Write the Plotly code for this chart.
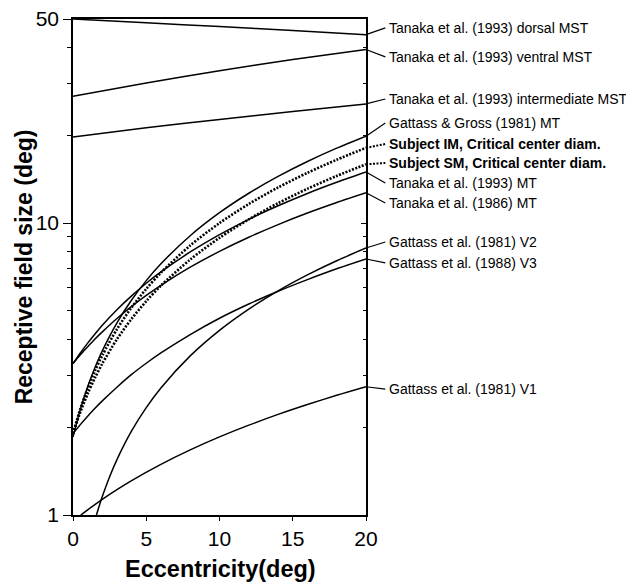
import math
import plotly.graph_objects as go

# ---------------- data ----------------
ecc_mst = [0, 5, 10, 15, 20]
dorsal_mst = [50.0, 48.55, 47.1, 45.65, 44.2]
ventral_mst = [27.2, 30.2, 33.25, 36.3, 39.3]
intermediate_mst = [19.7, 21.2, 22.65, 24.1, 25.6]

ecc = [0, 0.5, 1, 1.5, 2, 3, 4, 5, 6, 8, 10, 12, 14, 16, 18, 20]
gattass_gross_mt = [1.85, 2.3, 2.75, 3.2, 3.65, 4.55, 5.45, 6.35, 7.25, 9.05, 10.85, 12.65, 14.45, 16.25, 18.05, 19.85]
subject_im = [1.9, 2.31, 2.71, 3.12, 3.52, 4.33, 5.14, 5.95, 6.76, 8.38, 10.0, 11.62, 13.24, 14.86, 16.48, 18.1]
subject_sm = [1.9, 2.25, 2.6, 2.95, 3.3, 4.0, 4.7, 5.4, 6.1, 7.5, 8.9, 10.3, 11.7, 13.1, 14.5, 15.9]
tanaka93_mt = [3.3, 3.59, 3.88, 4.17, 4.47, 5.05, 5.63, 6.22, 6.8, 7.96, 9.13, 10.3, 11.46, 12.63, 13.79, 14.96]
tanaka86_mt = [3.3, 3.54, 3.77, 4.01, 4.24, 4.71, 5.18, 5.65, 6.12, 7.06, 8.0, 8.94, 9.88, 10.82, 11.76, 12.7]
gattass88_v3 = [1.9, 2.04, 2.18, 2.32, 2.46, 2.74, 3.03, 3.31, 3.59, 4.15, 4.72, 5.28, 5.84, 6.4, 6.97, 7.53]

ecc_v2 = [1.6, 1.8, 2, 2.5, 3, 4, 5, 6, 8, 10, 12, 14, 16, 18, 20]
gattass81_v2 = [1.0, 1.078, 1.156, 1.352, 1.548, 1.94, 2.332, 2.724, 3.508, 4.292, 5.076, 5.86, 6.644, 7.428, 8.212]

ecc_v1 = [0.53, 1, 2, 3, 4, 6, 8, 10, 12, 14, 16, 18, 20]
gattass81_v1 = [1.0, 1.042, 1.132, 1.222, 1.312, 1.491, 1.671, 1.851, 2.031, 2.211, 2.39, 2.57, 2.75]

labels = [
    "Tanaka et al. (1993) dorsal MST",
    "Tanaka et al. (1993) ventral MST",
    "Tanaka et al. (1993) intermediate MST",
    "Gattass & Gross (1981) MT",
    "Subject IM, Critical center diam.",
    "Subject SM, Critical center diam.",
    "Tanaka et al. (1993) MT",
    "Tanaka et al. (1986) MT",
    "Gattass et al. (1981) V2",
    "Gattass et al. (1988) V3",
    "Gattass et al. (1981) V1",
]

x_ticks = [0, 5, 10, 15, 20]
y_ticks = [1, 10, 50]
y_minor = [2, 3, 4, 5, 6, 7, 8, 9, 20, 30, 40]

# ---------------- layout / style ----------------
series = [
    (ecc_mst, dorsal_mst, False),
    (ecc_mst, ventral_mst, False),
    (ecc_mst, intermediate_mst, False),
    (ecc, gattass_gross_mt, False),
    (ecc, subject_im, True),
    (ecc, subject_sm, True),
    (ecc, tanaka93_mt, False),
    (ecc, tanaka86_mt, False),
    (ecc_v2, gattass81_v2, False),
    (ecc, gattass88_v3, False),
    (ecc_v1, gattass81_v1, False),
]
# vertical positions of the key labels (in axis value units)
label_pos = [46.6, 37.1, 26.6, 22.0, 18.66, 16.06, 13.72, 11.72, 8.61, 7.30, 2.70]

FONT = "Liberation Sans, Arial, Helvetica, sans-serif"
DOT = "2px,1.5px"
fig = go.Figure()

for (xs, ys, dotted), name in zip(series, labels):
    fig.add_trace(go.Scatter(
        x=xs, y=ys, mode="lines", name=name, showlegend=False,
        line=dict(color="black", width=2.6 if dotted else 1.5,
                  dash=DOT if dotted else "solid", shape="spline", smoothing=0.8),
        hoverinfo="skip",
    ))

# empty trace carrying the right-hand (inside-tick) axis
fig.add_trace(go.Scatter(x=[], y=[], yaxis="y2", showlegend=False))

ymax = math.log10(50)
shapes = []
annotations = []
for (xs, ys, dotted), name, lp in zip(series, labels, label_pos):
    shapes.append(dict(type="line", xref="paper", yref="y",
                       x0=1.0, y0=ys[-1], x1=1.066, y1=lp,
                       line=dict(color="black", width=2.0 if dotted else 1.2,
                                 dash=DOT if dotted else "solid")))
    txt = f"<b>{name}</b>" if dotted else name
    annotations.append(dict(xref="paper", yref="paper", x=1.072, y=math.log10(lp) / ymax,
                            text=txt, showarrow=False, xanchor="left", yanchor="middle",
                            font=dict(family=FONT, size=14, color="black")))

annotations.append(dict(xref="paper", yref="paper", x=0.505, y=-0.108, text="<b>Eccentricity(deg)</b>",
                        showarrow=False, xanchor="center", yanchor="middle",
                        font=dict(family=FONT, size=23.5, color="black")))
annotations.append(dict(xref="paper", yref="paper", x=-0.166, y=0.5, text="<b>Receptive field size (deg)</b>",
                        showarrow=False, xanchor="center", yanchor="middle", textangle=-90,
                        font=dict(family=FONT, size=23, color="black")))

fig.update_layout(
    width=634, height=585, autosize=False,
    # page body adds an 8px offset; margins compensate so the plot box lands at 73..366 x 19..515
    margin=dict(l=65, r=276, t=11, b=78, pad=0),
    paper_bgcolor="white", plot_bgcolor="white",
    font=dict(family=FONT, color="black"),
    shapes=shapes, annotations=annotations,
    xaxis=dict(range=[0, 20], tickvals=x_ticks, ticks="outside", ticklen=4, tickwidth=1.2,
               tickcolor="black", showgrid=False, zeroline=False, showline=True, linecolor="black",
               linewidth=1.5, mirror=True, automargin=False, ticklabeloverflow="allow",
               tickfont=dict(size=21, family=FONT, color="black")),
    yaxis=dict(type="log", range=[0, ymax], tickvals=y_ticks, ticktext=[str(v) for v in y_ticks],
               ticks="outside", ticklen=8, tickwidth=1.2, tickcolor="black",
               minor=dict(tickvals=y_minor, ticks="outside", ticklen=4, tickwidth=1, tickcolor="black"),
               showgrid=False, zeroline=False, showline=True, linecolor="black", linewidth=1.5,
               mirror=True, automargin=False, ticklabeloverflow="allow",
               tickfont=dict(size=21, family=FONT, color="black")),
    yaxis2=dict(type="log", range=[0, ymax], overlaying="y", side="right", anchor="x",
                tickvals=y_ticks, ticks="inside", ticklen=5, tickwidth=1, tickcolor="black",
                minor=dict(tickvals=y_minor, ticks="inside", ticklen=3, tickwidth=1, tickcolor="black"),
                showticklabels=False, showgrid=False, zeroline=False, showline=False, automargin=False),
)

fig.write_html("out.html")
